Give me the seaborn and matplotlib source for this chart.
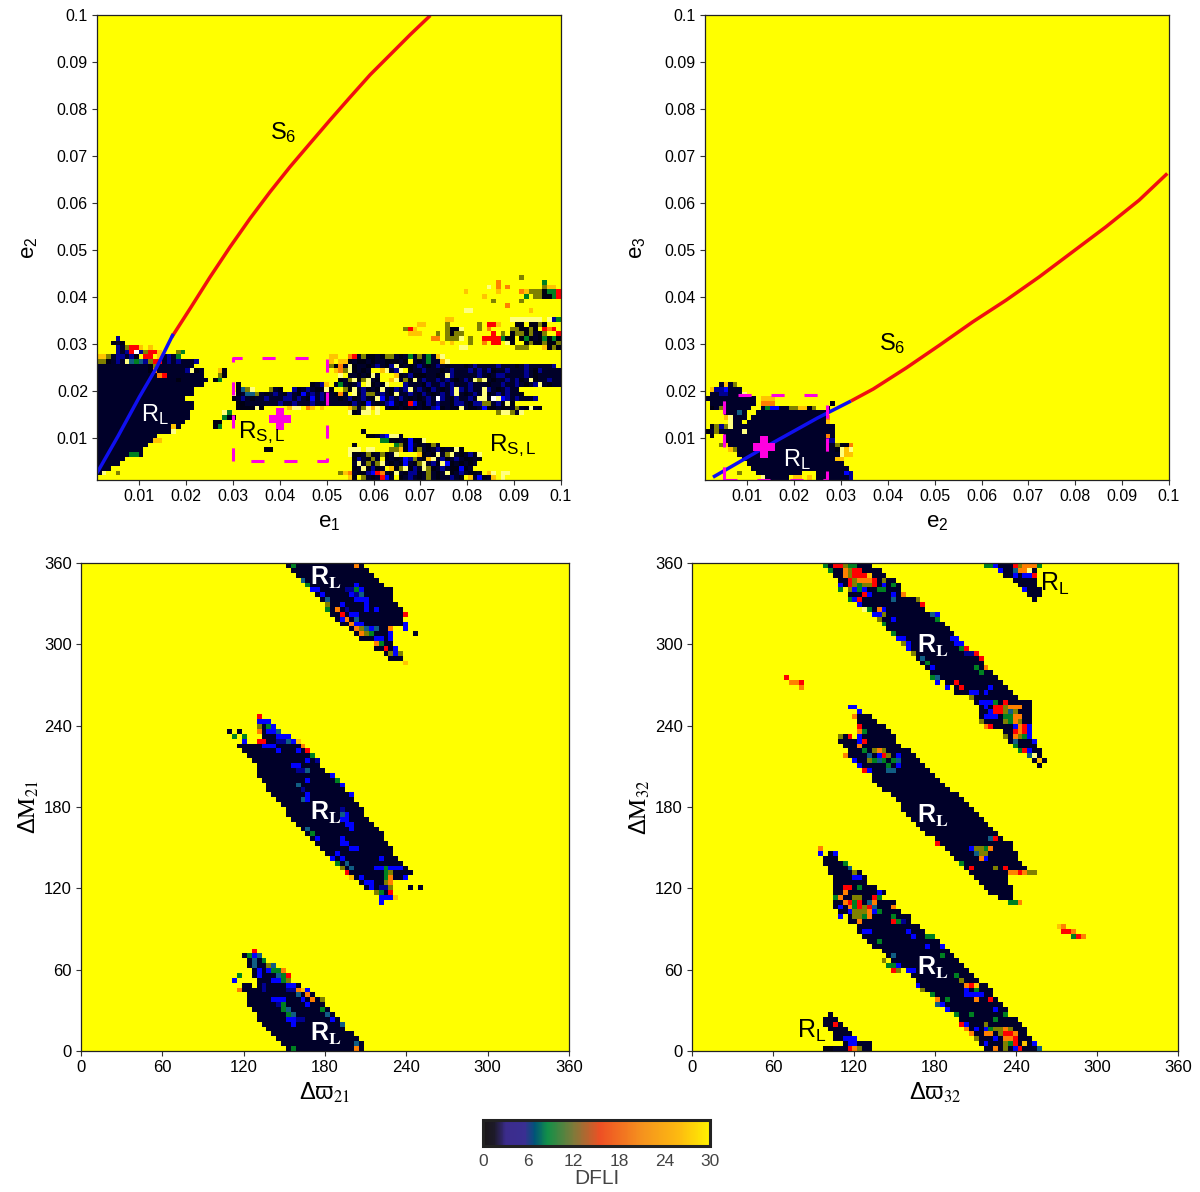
#!/usr/bin/env python3
"""
DFLI stability maps around the resonance: e-e planes and angle planes
"""

import numpy as np
import matplotlib
matplotlib.use('Agg')
import matplotlib.pyplot as plt
import seaborn as sns
from matplotlib.cm import ScalarMappable
from matplotlib.colors import LinearSegmentedColormap, Normalize

sns.set_theme(style='ticks')
plt.rcParams['font.family'] = ['Liberation Sans', 'DejaVu Sans']
plt.rcParams['mathtext.fontset'] = 'stix'
plt.rcParams['mathtext.default'] = 'regular'

# DFLI value of each letter used in the grids below
CODES = {'.': 30, 'k': 0, '#': 1.5, 'd': 3, 'b': 5, 't': 6.5, 'g': 8, 'o': 12,
         'r': 15.5, 'n': 20, 'y': 25, 'p': 32, 'w': 34}

# scale of the maps, DFLI above 30 runs to white
MAP_STOPS = [0, 1.5, 3, 5, 6.5, 8, 12, 15.5, 20, 25, 30, 34]
MAP_COLORS = ['#000012', '#00002a', '#000090', '#0000ff', '#106080', '#008020',
              '#808000', '#ff0000', '#ff8000', '#ffc400', '#ffff00', '#ffffff']
# the printed colour bar
BAR_STOPS = [0, 1.5, 3, 5.5, 6.8, 8.5, 12, 15.5, 21, 26, 30]
BAR_COLORS = ['#1a1718', '#1d1a2a', '#3b2c8c', '#3a2f92', '#005478', '#129048',
              '#7f7a3a', '#ee5024', '#f5921e', '#fdbb10', '#fff200']

E_TICKS = [0.01, 0.02, 0.03, 0.04, 0.05, 0.06, 0.07, 0.08, 0.09, 0.1]
E_LABELS = ['0.01', '0.02', '0.03', '0.04', '0.05', '0.06', '0.07', '0.08', '0.09', '0.1']
ANGLE_TICKS = [0, 60, 120, 180, 240, 300, 360]
BAR_TICKS = [0, 6, 12, 18, 24, 30]

# ---- e1-e2 map: (row, first col, last col) navy runs, then rows of letters
tl_spans = [(1, 0, 1), (2, 0, 2), (3, 0, 4), (4, 0, 5), (5, 0, 6), (6, 0, 9), (7, 0, 10),
            (8, 0, 11), (9, 0, 12), (10, 0, 15), (11, 0, 17), (12, 0, 18), (13, 0, 19),
            (14, 0, 19), (15, 0, 20), (16, 0, 20), (17, 0, 18), (18, 0, 20), (19, 0, 20),
            (20, 0, 22), (21, 0, 23), (22, 0, 22), (23, 0, 22), (24, 0, 20), (25, 0, 19)]
tl_rows = [
    (0, 53, '.yk.o#k#rb#.k#d#k#o#k##d#k.y#bk#y.p'),
    (1, 4, 'o'), (1, 1, 'p'),
    (1, 52, 'oyn#kkdbrn#kp#kddk#o#k#pk#d#kk#.yp.pp'),
    (2, 55, 'k#pkdk#.ykopkd#pok#d#kkbk#'),
    (3, 55, '#p#o#op#k#kb#kop#dkpbk#k#k#'),
    (4, 55, 'kd#ko#.k#k#bdo#kyp#dk#d#kk#k'),
    (5, 54, 'pkk#ok#ok#p....yk#kp#op#k#dkp'),
    (6, 54, 'ppp.pp...ooykbko#k#dk#kpk'),
    (7, 55, 'k........gokb#k#ko#'),
    (8, 61, 'ggkk#kbkkp'),
    (9, 58, 'kk#dbpp#'),
    (10, 57, 'k'),
    (11, 25, 'kg'), (12, 25, 'kk'), (13, 27, 'gkk'), (14, 27, 'pg'),
    (6, 36, 'kk'),
    (14, 54, 'pk#pp.p'), (14, 86, 'oppo#p'),
    (15, 30, 'kkkkpk.....ypp.ny.y.....yo#opyp.#kk#k#k#kkdbk#kkp#kk#bkk#kk#o#kp#k'),
    (16, 30, 'kk#######d##d###d#######kd#kb#k#db#k#rb#kd#d##kdd#kddoo#dkpk'),
    (17, 29, 'k#d#k##d###dd#d#kb#d###k#dk#d#kpb#d#d#k#k#d#wd#kd##d#pp#wpbd#d###d'),
    (18, 29, 'pk#tto#k#d#kd#kb#d#d##kn#.pkdoo#d#kp##d#kd#k#d#dp#k#d#pk#d#d##k'),
    (19, 30, 'ktop...o#k..dk#d#kkpk..okp#dk#kp#kd#dp#d#kd#k#dpd#d##pd#k#d##'),
    (20, 30, 'k...............k#dy.#g#k#d.pk#kp...d###kd##d#d###d###k##d##d#k#dp#k####'),
    (21, 25, 'kg'), (22, 26, 'ok'), (23, 26, 'yk'),
    (21, 50, '..k#opkop#k..yp#okp#d##d#d#k#d#pop#k##d#dk#pk##d###'),
    (22, 50, '..p.##k#kp#...yk#dkkk##k#pd#####d#k#dd####d#k#####d'),
    (23, 50, '.ynopk#k#..yp#dp.k##d###k#d###d#d#dk##d###d#kd#####'),
    (24, 50, 'okn#pk##k#d#kdpk#k#d#k#d#k###k#d####d###k#d#####d'),
    (25, 50, 'y.yyk#kk#k##kkk#k.#k#g##yp'),
    (26, 50, 'yy..nr#okk#koo#k#g#o#g#yp'),
    (28, 78, 'pp'), (28, 92, 'y'), (28, 90, 'ooo'), (28, 96, 'ykok'),
    (29, 74, 'y.y'), (29, 80, 'o'), (29, 83, 'n.rr.pk'), (29, 92, 'kokkokkok'),
    (30, 72, 'nn.ooop'), (30, 80, 'o'), (30, 83, 'rrrrgkk'), (30, 91, 'kgk#kgkgkk'),
    (31, 67, 'yyy'), (31, 73, 'o.okoo'), (31, 85, 'r'), (31, 87, 'o'),
    (31, 89, 'kooko#k'), (31, 96, 'o'), (31, 99, 'r'),
    (32, 66, 'ory'), (32, 75, 'okkp'), (32, 82, 'o'), (32, 84, 'n'),
    (32, 89, 'ookk'), (32, 93, 'ok'), (32, 96, 'rnr'),
    (33, 69, 'yy'), (33, 75, 'o'), (33, 82, 'o'), (33, 84, 'rry'), (33, 90, 'kk.kkok'),
    (34, 75, 'yy'), (34, 89, 'ppppppp.pdg'),
    (36, 79, 'pp'), (36, 93, 'y'), (37, 88, 'n'), (38, 85, 'o'), (38, 91, 'o'),
    (39, 83, 'y'), (39, 92, 'g.ookkgr'),
    (40, 79, 'y'), (40, 86, 'y'), (40, 91, 'nyoookggr'),
    (41, 84, 'p.n.n'), (41, 96, 'oyy'), (42, 86, 'n'), (42, 96, 'g'), (43, 91, 'o'),
    (25, 0, 'ook#d#ptgtdorr'), (25, 14, '#d.d###d'),
    (26, 0, 'yyo#dd#dk.rr.y#d#g'),
    (27, 4, 'd#drwdorry'), (27, 17, 'og'),
    (28, 4, 'd#orry.y'), (29, 3, 'k#k'), (30, 4, 'd'),
    (24, 11, 'ko'), (23, 11, 'kn'), (23, 19, 'dpk'), (22, 13, 'nr'), (21, 17, 'k'),
    (11, 16, 'y'), (10, 16, 'p'), (8, 12, 'yy'), (5, 7, 'gg#'),
]

# ---- e2-e3 map
tr_spans = [(0, 13, 17), (0, 24, 31), (1, 11, 20), (1, 24, 30), (2, 10, 30), (3, 9, 29),
            (4, 8, 29), (5, 7, 28), (6, 6, 27), (7, 5, 27), (8, 4, 27), (9, 4, 27),
            (10, 0, 3), (10, 4, 27), (11, 6, 27), (12, 9, 25), (12, 5, 7), (13, 5, 8),
            (13, 10, 26), (14, 4, 8), (14, 11, 25), (15, 2, 9), (15, 12, 17), (16, 1, 10),
            (17, 0, 10), (18, 1, 8), (19, 1, 7), (20, 3, 6)]
tr_rows = [
    (0, 12, 'p'), (0, 18, '.yy.y'), (0, 31, 'd'), (1, 30, 'bd'),
    (1, 7, 'o'), (4, 28, 'yy'), (5, 29, 'pyy'), (6, 28, 'kpyp'), (7, 28, 'okkn'),
    (6, 5, 'yo'), (7, 3, 'oy'), (8, 26, 'dd'), (9, 1, 'k'), (9, 26, 'n'),
    (10, 0, 'k#o'), (10, 8, 'p'), (11, 1, 'kodop'), (12, 5, 'p'), (13, 4, 'yp'),
    (14, 7, 't'), (12, 26, 'y'), (13, 26, 'n'), (16, 27, 'k'), (15, 26, 'k'),
    (15, 13, 'gbb'), (15, 18, 'ooyyko'), (16, 12, 'nnn'), (17, 12, 'yyy'), (18, 8, 'p'),
    (15, 1, 'k'), (15, 3, 'o'), (18, 3, 'dd'), (19, 2, 'ddb'), (20, 4, 'y.o'), (19, 1, 'y'),
]

# ---- delta varpi 21 / delta M 21 map
bl_spans = [(99, 42, 57), (98, 43, 58), (97, 44, 59), (96, 45, 60), (95, 46, 61), (94, 47, 63),
            (93, 48, 63), (92, 49, 63), (91, 50, 64), (90, 50, 65), (89, 51, 66), (88, 52, 65),
            (87, 53, 66), (86, 55, 63), (85, 56, 63), (85, 68, 68), (84, 57, 63), (83, 60, 63),
            (82, 60, 64), (81, 62, 64), (80, 63, 65),
            (65, 30, 30), (65, 32, 32), (65, 37, 40), (64, 37, 42), (63, 38, 44), (62, 32, 44),
            (61, 33, 45), (60, 34, 46), (59, 35, 47), (58, 36, 48), (57, 36, 49), (56, 36, 50),
            (55, 37, 51), (54, 38, 52), (53, 38, 53), (52, 39, 54), (51, 40, 55), (50, 41, 56),
            (49, 42, 57), (48, 42, 57), (47, 43, 58), (46, 44, 59), (45, 45, 60), (44, 46, 61),
            (43, 47, 61), (42, 48, 62), (41, 49, 63), (40, 50, 63), (39, 51, 64), (38, 52, 65),
            (37, 53, 66), (36, 54, 67), (35, 55, 65), (34, 57, 63), (33, 58, 63), (33, 67, 67),
            (33, 69, 69), (32, 60, 63), (31, 61, 63),
            (0, 42, 57), (1, 41, 57), (2, 40, 56), (3, 39, 55), (4, 38, 53), (5, 37, 53),
            (6, 36, 52), (7, 36, 51), (8, 35, 50), (9, 34, 49), (10, 34, 49), (11, 34, 47),
            (12, 33, 46), (13, 33, 34), (13, 36, 44), (14, 36, 42), (15, 35, 41), (16, 35, 41),
            (17, 34, 39), (18, 34, 37), (19, 33, 36)]
bl_rows = [
    (99, 43, 'g'), (99, 56, 'n'), (96, 45, 't'), (95, 46, 'g'), (95, 56, 'b'),
    (94, 47, 'bb'), (94, 54, 'ddgb'), (93, 49, 'b'), (93, 55, 'bdt'), (92, 50, 't'),
    (92, 56, 'bbb'), (91, 50, 'o'), (91, 53, 'b'), (91, 58, 'b'), (90, 50, 'g'),
    (90, 52, 'n'), (90, 54, 'd'), (90, 58, 'b'), (90, 60, 'b'), (89, 53, 'r'),
    (89, 55, 'bb'), (89, 66, 'r'), (88, 53, 'bn'), (88, 56, 't'), (87, 55, 'nbb'),
    (87, 66, 'b'), (86, 56, 'notbt'), (86, 63, 'n'), (86, 66, 'b'), (85, 57, 'nog'),
    (85, 63, 'b'), (84, 60, 'bb'), (84, 63, 'b'), (83, 60, 'ng'), (82, 62, 'r'),
    (82, 64, 'b'), (81, 63, 'o'), (81, 64, 'b'), (81, 65, 'o'), (79, 66, 'y'),
    (68, 36, 'r'), (67, 36, 'bbb'), (66, 36, 'o#gb'), (65, 36, 'n'), (65, 38, 'bbt'),
    (64, 31, 'g'), (64, 33, 'g'), (64, 40, 'bbb'), (63, 33, 'b'), (63, 36, 'rr'),
    (63, 40, 'ddtb'), (63, 44, 'y'), (62, 37, 'bbb'), (62, 45, 'n'), (61, 40, 'b'),
    (61, 44, 'b'), (61, 46, 'r'), (60, 47, 'g'), (59, 46, 'b'), (59, 48, 'd'),
    (58, 43, 'bb'), (57, 44, 'ddt'), (56, 51, 'b'), (55, 46, 'b'), (55, 52, 'g'),
    (54, 44, 't'), (54, 53, 'b'), (53, 45, 'd'), (52, 46, 'b'), (52, 55, 'b'),
    (51, 45, 'tb'), (49, 53, 'd'), (48, 53, 'tb'), (47, 53, 'bb'), (46, 54, 'bb'),
    (45, 46, 't'), (45, 55, 'b'), (44, 47, 'g'), (43, 48, 'b'), (43, 53, 'b'),
    (42, 53, 'bb'), (41, 55, 'bb'), (40, 52, 'b'), (39, 51, 'b'), (39, 53, 'b'),
    (39, 61, 'b'), (38, 52, 'g'), (38, 54, 't'), (37, 53, 'o'), (37, 55, 't'),
    (37, 60, 'bbgbbb'), (36, 54, 'r'), (36, 62, 'go'), (35, 66, 'b'), (35, 55, 'y'),
    (35, 57, 'b'), (35, 62, 'gn'), (34, 58, 'bb'), (34, 62, 'on'), (33, 59, 'b'),
    (33, 61, 'ddo'), (32, 60, 'og'), (32, 63, 'r'), (31, 61, 'bbb'), (31, 64, 'y'),
    (30, 61, 'b'),
    (20, 35, 'r'), (19, 34, 'gbt'), (18, 35, 't'), (18, 37, 'g'), (17, 35, 't'),
    (17, 38, 'ot'), (16, 36, 'b'), (16, 38, 'bggn'), (15, 32, 'g'), (15, 36, 'b'),
    (15, 40, 'tgr'), (14, 31, 'b'), (14, 39, 'bbgo'), (13, 37, 'd'), (13, 42, 'bb'),
    (12, 32, 'n'), (12, 37, 'd'), (12, 42, 'ddnyb'), (11, 44, 't'), (11, 46, 'n'),
    (10, 39, 'bbb'), (10, 45, 'b'), (10, 47, 'n'), (10, 49, 'o'), (9, 40, 'dg'),
    (9, 46, 'b'), (8, 41, 'gt'), (8, 49, 'g'), (7, 42, 'gt'), (7, 50, 't'),
    (6, 42, 'bbdd'), (6, 51, 'b'), (5, 43, 'b'), (5, 53, 't'), (1, 56, 't'),
    (0, 56, 'n'), (0, 43, 'g'),
]

# ---- delta varpi 32 / delta M 32 map
br_spans = [(99, 27, 36), (98, 28, 38), (97, 29, 39), (96, 30, 41), (95, 31, 42), (94, 32, 42),
            (93, 32, 43), (92, 34, 45), (91, 35, 46), (90, 36, 47), (89, 37, 49), (88, 38, 50),
            (87, 39, 51), (86, 40, 52), (85, 41, 53), (84, 42, 54), (83, 43, 55), (82, 44, 56),
            (81, 45, 58), (80, 46, 59), (79, 47, 59), (78, 48, 60), (77, 49, 61), (76, 51, 62),
            (75, 52, 63), (74, 54, 64), (73, 54, 65), (72, 57, 66), (71, 58, 69), (70, 59, 69),
            (69, 59, 69), (68, 59, 69), (67, 60, 69), (66, 62, 69), (65, 64, 69), (64, 65, 69),
            (63, 65, 70), (62, 66, 70), (61, 67, 71), (60, 69, 71), (59, 70, 72), (58, 71, 71),
            (99, 60, 70), (98, 63, 70), (97, 64, 70), (96, 66, 70), (95, 67, 70), (94, 68, 71),
            (93, 69, 71), (92, 70, 70),
            (68, 34, 36), (67, 34, 37), (66, 34, 39), (65, 34, 40), (64, 34, 41), (63, 30, 41),
            (62, 31, 42), (61, 32, 44), (60, 32, 45), (59, 33, 46), (58, 34, 47), (57, 35, 48),
            (56, 37, 49), (55, 37, 50), (54, 38, 51), (53, 39, 52), (52, 41, 54), (51, 42, 55),
            (50, 43, 56), (49, 43, 57), (48, 44, 58), (47, 45, 59), (46, 46, 60), (45, 47, 61),
            (44, 48, 62), (43, 50, 63), (42, 51, 65), (41, 52, 65), (40, 53, 66), (39, 54, 66),
            (38, 55, 67), (37, 56, 68), (36, 57, 64), (35, 58, 64), (34, 59, 64), (33, 60, 65),
            (32, 61, 65), (31, 63, 65),
            (40, 28, 28), (39, 27, 29), (38, 27, 31), (37, 28, 32), (36, 28, 34), (35, 29, 35),
            (34, 29, 35), (33, 29, 37), (32, 29, 39), (31, 29, 38), (30, 29, 41), (29, 29, 41),
            (28, 30, 42), (27, 32, 44), (26, 32, 44), (25, 34, 46), (24, 34, 47), (23, 35, 49),
            (22, 36, 50), (21, 37, 51), (20, 39, 52), (19, 40, 53), (18, 41, 54), (17, 43, 55),
            (16, 44, 56), (15, 45, 57), (14, 46, 58), (13, 47, 60), (12, 48, 61), (11, 49, 61),
            (10, 50, 62), (9, 51, 63), (8, 52, 64), (7, 54, 64), (6, 55, 66), (5, 55, 67),
            (4, 56, 68), (3, 57, 68), (2, 58, 69), (1, 59, 70), (0, 60, 71),
            (7, 28, 28), (6, 27, 29), (5, 27, 30), (4, 28, 31), (3, 29, 32), (2, 29, 33),
            (1, 31, 36), (0, 27, 36)]
br_rows = [
    (99, 27, 'g'), (99, 29, 'rrogg'), (98, 28, 'g'), (98, 31, 'norr'), (97, 31, 'norrry'),
    (96, 32, 'ronnnr#o'), (95, 30, 'b'), (95, 32, 'rogoor'), (95, 39, 'b'), (95, 41, 'g'),
    (94, 30, 'g'), (94, 32, 'obgb'), (94, 38, 'gg'), (93, 35, 'rb'), (93, 41, 'b'),
    (93, 43, 'n'), (92, 32, 'gbr'), (92, 41, 't'), (92, 46, 'o'), (91, 34, 'b'),
    (91, 47, 'r'), (90, 35, 'pg'), (90, 38, 'nb'), (89, 37, 'bbo'), (89, 49, 'tb'),
    (88, 38, 'o'), (88, 41, 'b'), (88, 50, 'g'), (87, 39, 'g'), (85, 41, 'g'),
    (84, 42, 'bb'), (84, 53, 'bb'), (83, 43, 'ob'), (83, 54, 'bb'), (82, 44, 'b'),
    (82, 55, 'gr'), (81, 45, 'o'), (81, 56, 'dd'), (81, 58, 'r'), (80, 47, 't'),
    (80, 59, 'r'), (79, 48, 'g'), (78, 49, 'b'), (78, 58, 'g'), (78, 60, 'n'),
    (77, 59, 'g'), (76, 49, 'gt'), (75, 50, 'b'), (75, 54, 'r'), (74, 52, 'b'),
    (74, 55, 'r'), (74, 61, 'b'), (73, 57, 'bb'), (73, 60, 'b'), (72, 57, 'o'),
    (71, 59, 'bbbg'), (71, 64, 'r'), (70, 60, 'b'), (70, 62, 'rronnn'), (69, 61, 'b'),
    (69, 62, 'rroto'), (68, 60, 'bbb'), (68, 64, 'ggnn'), (67, 59, 'o'), (67, 64, 'ogno'),
    (66, 60, 'nr'), (66, 66, 'bnrb'), (65, 66, 'rnrb'), (64, 64, 'o'), (64, 66, 'nogb'),
    (63, 66, 't'), (63, 70, 'b'), (62, 66, 'g'), (61, 67, 'gr'), (61, 69, 'b'),
    (60, 69, 't'), (60, 70, 'p'), (59, 71, 'y'),
    (99, 60, 'gg'), (99, 62, 'b'), (99, 66, 'ronnng'), (98, 63, 'b'), (98, 66, 'tnnp'),
    (97, 66, 'b'), (97, 68, 'bbr'), (94, 68, 'b'),
    (76, 19, 'r'), (75, 20, 'nnr'), (74, 22, 'n'),
    (70, 32, 'bb'), (69, 34, 'b'), (68, 33, 'n'), (66, 34, 'r'), (65, 34, 'ng'),
    (64, 30, 'o#r'), (64, 34, 'b'), (63, 34, 'br'), (62, 34, 'n'), (61, 35, 'g'),
    (61, 37, 'ono'), (60, 31, 'n'), (60, 36, 't'), (60, 38, 'bro'), (60, 42, 'b'),
    (59, 33, 'b'), (59, 36, 'ogtg'), (59, 41, 'gt'), (58, 34, 'b'), (58, 40, 'g'),
    (58, 42, 'b'), (57, 35, 'rb'), (57, 40, 'tt'),
    (42, 50, 'r'), (43, 61, 'tr'), (41, 57, 'boogn'), (40, 58, 'too'), (39, 59, 'nb'),
    (38, 55, 'g'), (37, 57, 'r'), (37, 62, 'o'), (37, 64, 'r'), (36, 65, 'nnrnoo'),
    (30, 65, 'ggn'),
    (41, 26, 'n'), (40, 26, 'b'), (40, 29, 'b'), (38, 31, 'g'), (37, 32, 't'),
    (36, 33, 'o'), (35, 33, 'bb'), (33, 31, 'rr'), (33, 34, 'g'), (32, 31, 'n'),
    (32, 38, 'b'), (31, 29, 'gn'), (31, 33, 'oo'), (31, 37, 'rg'), (30, 31, 'nrgr'),
    (30, 36, 'tn'), (29, 30, 'b'), (29, 32, 'ngrort'), (29, 41, 'n'), (28, 32, 'booonbg'),
    (27, 30, 'b'), (27, 33, 'oogn'), (27, 41, 'g'), (26, 34, 'n'), (26, 41, 'rgd'),
    (24, 35, 'bb'), (24, 44, 'b'), (23, 45, 'b'), (23, 48, 'gg'), (22, 38, 'g'),
    (21, 48, 'b'), (21, 51, 'b'), (19, 41, 't'), (19, 51, 'g'), (18, 39, 'o'),
    (17, 40, 'ggb'), (16, 41, 'ro'), (16, 44, 'bb'), (15, 54, 'g'), (14, 55, 'o'),
    (13, 46, 'b'), (13, 56, 'nry'), (12, 47, 'o'), (12, 56, 'b'), (12, 58, 'g'),
    (11, 49, 'g'), (11, 56, 'bbbb'), (10, 50, 'n'), (10, 52, 'g'), (10, 58, 'n'),
    (10, 61, 'r'), (9, 50, 'tb'), (8, 52, 'b'), (8, 62, 'b'), (7, 54, 'g'), (7, 57, 'g'),
    (7, 64, 'g'), (6, 62, 'g'), (5, 55, 'rb'), (5, 60, 'o'), (4, 56, 'n'), (4, 58, 'b'),
    (4, 60, 'bgoono'), (3, 57, 'n'), (3, 60, 'nn'), (3, 63, 'orrn'), (2, 58, 'o'),
    (2, 62, 'b'), (2, 64, 'nnr'), (1, 60, 'b'), (1, 64, 'ogr'), (1, 68, 'y'), (1, 70, 'b'),
    (0, 62, 'n'), (0, 64, 'o'), (0, 66, 'br'), (0, 71, 't'),
    (25, 75, 'yn'), (24, 76, 'rrn'), (23, 78, 'grn'),
    (5, 29, 'r'), (2, 31, 'bb'), (2, 33, 'b'), (1, 32, 'bb'), (0, 27, 'kk...'),
    (0, 32, 'rno'),
]

tl_blue_x = [0.001, 0.0055, 0.01, 0.01372, 0.01727]
tl_blue_y = [0.0025, 0.01036, 0.0186, 0.02496, 0.0321]
tl_red_x = [0.01692, 0.02083, 0.02511, 0.02938, 0.03365, 0.03793, 0.0422, 0.04647,
            0.05075, 0.05502, 0.05929, 0.06357, 0.06784, 0.07211]
tl_red_y = [0.03137, 0.03744, 0.04419, 0.0506, 0.05667, 0.06235, 0.06769, 0.07269,
            0.07767, 0.08252, 0.08729, 0.09156, 0.09583, 0.09989]
tr_blue_x = [0.0027, 0.014, 0.025, 0.03213]
tr_blue_y = [0.0016, 0.0081, 0.0142, 0.01781]
tr_red_x = [0.03213, 0.03688, 0.04398, 0.05106, 0.05815, 0.06526, 0.07234, 0.07943,
            0.08653, 0.09362, 0.09964]
tr_red_y = [0.01781, 0.02036, 0.02489, 0.02972, 0.03468, 0.0393, 0.04426, 0.04957,
            0.05489, 0.06057, 0.06626]
tl_box = [0.03, 0.05, 0.005, 0.027]
tl_cross = [0.04, 0.014]
tr_box = [0.005, 0.027, 0.001, 0.019]
tr_cross = [0.0135, 0.0081]


def build_grid(spans, rows):
    grid = np.full((100, 100), float(CODES['.']))
    for row, first, last in spans:
        grid[row, first:last + 1] = CODES['#']
    for row, start, text in rows:
        for i, ch in enumerate(text):
            if start + i < 100 and ch != ' ':
                # a '.' in a letter row only skips, it does not clear navy
                if ch != '.' or grid[row, start + i] == CODES['.']:
                    grid[row, start + i] = CODES[ch]
    return grid


def e_pos(e):
    # the maps run from 0.001 to 0.1 over 100 cells
    return (np.asarray(e) - 0.001) / 0.099 * 100


def axes_px(fig, left, right, top, bottom):
    w, h = fig.get_size_inches() * fig.dpi
    return fig.add_axes([left / w, 1 - bottom / h, (right - left) / w, (bottom - top) / h])


def draw_map(ax, grid, cmap, norm):
    sns.heatmap(grid, ax=ax, cmap=cmap, norm=norm, cbar=False,
                xticklabels=False, yticklabels=False)
    ax.invert_yaxis()
    for spine in ax.spines.values():
        spine.set_visible(True)
        spine.set_color('#222222')
        spine.set_linewidth(0.9)
    ax.tick_params(length=3.5, width=0.8, color='#333333', labelsize=11.5,
                   labelcolor='black', pad=3, bottom=True, left=True)


def e_axes(ax, xlabel, ylabel):
    ax.set_xticks(e_pos(E_TICKS), E_LABELS)
    ax.set_yticks(e_pos(E_TICKS), E_LABELS, rotation=0)
    ax.set_xlabel(xlabel, fontsize=16, labelpad=6, color='black')
    ax.set_ylabel(ylabel, fontsize=16, labelpad=12, color='black')


def angle_axes(ax, xlabel, ylabel):
    ticks = np.array(ANGLE_TICKS) / 3.6
    ax.set_xticks(ticks, ANGLE_TICKS)
    ax.set_yticks(ticks, ANGLE_TICKS, rotation=0)
    ax.tick_params(labelsize=12)
    ax.set_xlabel(xlabel, fontsize=17, labelpad=4, color='black')
    ax.set_ylabel(ylabel, fontsize=17, labelpad=2, color='black')


def overlay(ax, blue_x, blue_y, red_x, red_y, box, cross):
    ax.plot(e_pos(red_x), e_pos(red_y), color='#f01010', lw=2.5, solid_capstyle='butt')
    ax.plot(e_pos(blue_x), e_pos(blue_y), color='#1010f0', lw=2.5, solid_capstyle='butt')
    x0, x1, y0, y1 = box
    ax.plot(e_pos([x0, x0, x1, x1, x0]), e_pos([y0, y1, y1, y0, y0]), color='#ff00e0',
            lw=2.2, linestyle=(0, (4.3, 6.5)))
    ax.plot(e_pos(cross[0]), e_pos(cross[1]), marker='P', ms=16, color='#ff00e0', mew=0)


def label(fig, x, y, text, color='black', size=15, weight='normal'):
    w, h = fig.get_size_inches() * fig.dpi
    fig.text(x / w, 1 - y / h, text, color=color, fontsize=size, fontweight=weight,
             ha='center', va='center')


def main():
    fig = plt.figure(figsize=(12, 11.92), dpi=100)
    cmap = LinearSegmentedColormap.from_list(
        'dfli', [(v / 34, c) for v, c in zip(MAP_STOPS, MAP_COLORS)], N=512)
    norm = Normalize(0, 34)

    ax_tl = axes_px(fig, 97, 561, 15, 480)
    draw_map(ax_tl, build_grid(tl_spans, tl_rows), cmap, norm)
    e_axes(ax_tl, '$e_1$', '$e_2$')
    overlay(ax_tl, tl_blue_x, tl_blue_y, tl_red_x, tl_red_y, tl_box, tl_cross)

    ax_tr = axes_px(fig, 705, 1169, 15, 480)
    draw_map(ax_tr, build_grid(tr_spans, tr_rows), cmap, norm)
    e_axes(ax_tr, '$e_2$', '$e_3$')
    overlay(ax_tr, tr_blue_x, tr_blue_y, tr_red_x, tr_red_y, tr_box, tr_cross)

    ax_bl = axes_px(fig, 81, 569, 563, 1051)
    draw_map(ax_bl, build_grid(bl_spans, bl_rows), cmap, norm)
    angle_axes(ax_bl, r'$\Delta\varpi_{\mathrm{21}}$', r'$\Delta\mathrm{M}_{\mathrm{21}}$')

    ax_br = axes_px(fig, 692, 1178, 563, 1051)
    draw_map(ax_br, build_grid(br_spans, br_rows), cmap, norm)
    angle_axes(ax_br, r'$\Delta\varpi_{\mathrm{32}}$', r'$\Delta\mathrm{M}_{\mathrm{32}}$')

    # colour bar
    bar_cmap = LinearSegmentedColormap.from_list(
        'bar', [(v / 30, c) for v, c in zip(BAR_STOPS, BAR_COLORS)], N=256)
    cax = axes_px(fig, 483, 710, 1120, 1146)
    cb = fig.colorbar(ScalarMappable(Normalize(0, 30), bar_cmap), cax=cax,
                      orientation='horizontal', ticks=BAR_TICKS)
    cb.ax.tick_params(length=0, labelsize=12.5, labelcolor='#444444', pad=6)
    cb.outline.set_linewidth(2.2)
    cb.outline.set_edgecolor('#222222')
    cb.set_label('DFLI', fontsize=15, color='#444444', labelpad=0)

    # region names
    label(fig, 283, 133, 'S$_6$', size=17)
    label(fig, 155, 415, 'R$_L$', color='white', size=17)
    label(fig, 262, 433, 'R$_{S,L}$', size=17.5)
    label(fig, 513, 446, 'R$_{S,L}$', size=17.5)
    label(fig, 892, 344, 'S$_6$', size=17)
    label(fig, 797, 460, 'R$_L$', color='white', size=17)
    for x, y in [(326, 578), (326, 813), (326, 1034), (933, 646), (933, 816), (933, 968)]:
        label(fig, x, y, r'R$_{\mathbf{L}}$', color='white', size=18, weight='bold')
    label(fig, 1055, 584, 'R$_L$', size=18)
    label(fig, 812, 1031, 'R$_L$', size=18)

    fig.savefig('out.png', dpi=100, facecolor='white')


if __name__ == "__main__":
    main()
